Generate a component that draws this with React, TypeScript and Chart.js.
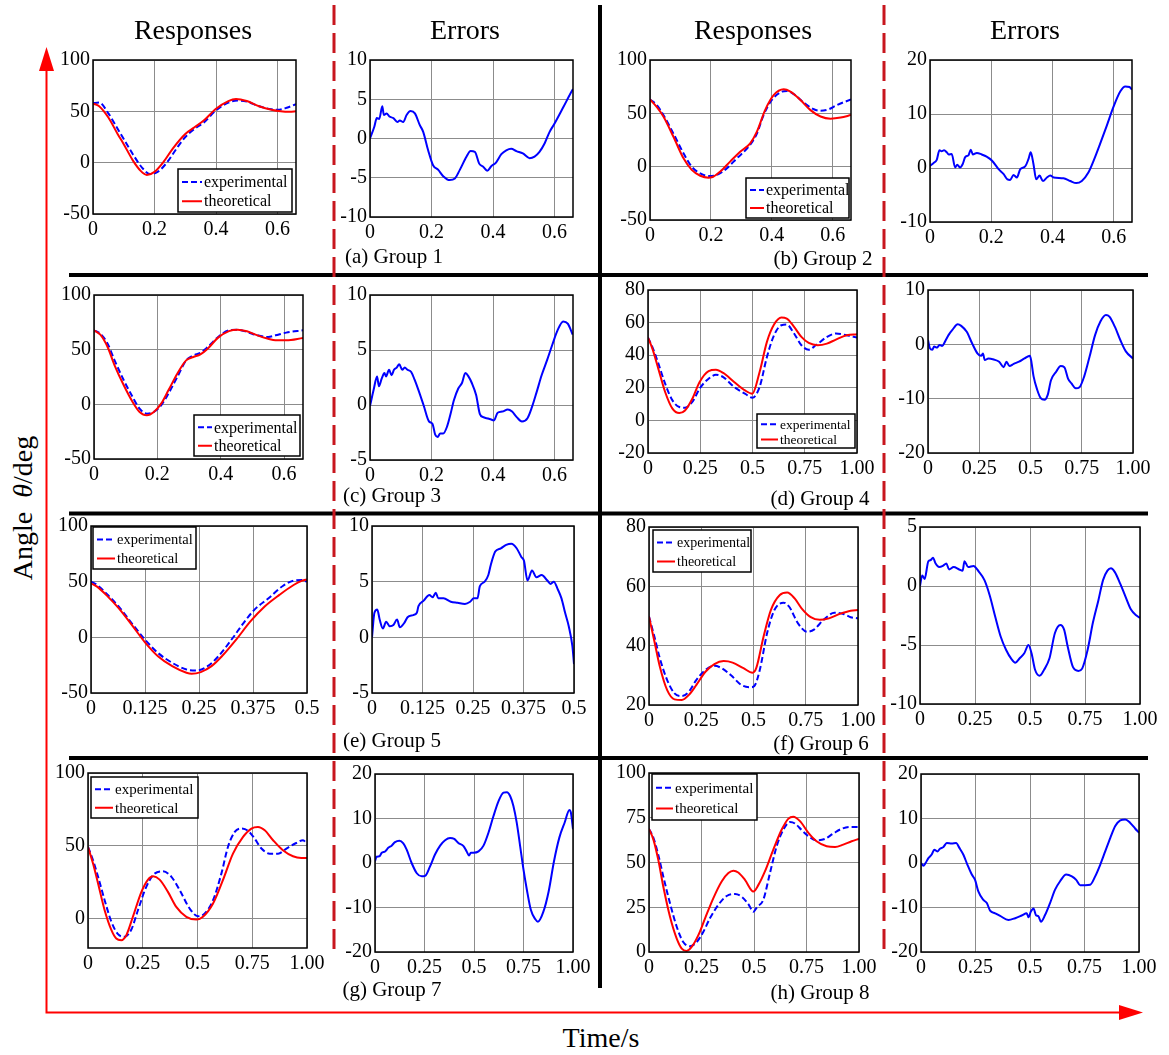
import React, { useEffect, useRef } from "react";
import { Chart, registerables } from "chart.js";

Chart.register(...registerables);

const FONT = '"Liberation Serif", "Times New Roman", Times, serif';

// ---------------- tick values / labels ----------------
const xTicks066 = [0, 0.2, 0.4, 0.6];
const xLabels066 = ["0", "0.2", "0.4", "0.6"];
const xTicks1 = [0, 0.25, 0.5, 0.75, 1];
const xLabels1 = ["0", "0.25", "0.5", "0.75", "1.00"];
const xTicks05 = [0, 0.125, 0.25, 0.375, 0.5];
const xLabels05 = ["0", "0.125", "0.25", "0.375", "0.5"];

const yTicksResp = [-50, 0, 50, 100];
const yTicksErr10 = [-10, -5, 0, 5, 10];
const yTicksErr20b = [-10, 0, 10, 20];
const yTicksErr5 = [-5, 0, 5, 10];
const yTicksD = [-20, 0, 20, 40, 60, 80];
const yTicksDErr = [-20, -10, 0, 10];
const yTicksF = [20, 40, 60, 80];
const yTicksFErr = [-10, -5, 0, 5];
const yTicksG = [0, 50, 100];
const yTicksErr20 = [-20, -10, 0, 10, 20];
const yTicksH = [0, 25, 50, 75, 100];

// ---------------- (a) Group 1 ----------------
const timeA_exp = [0, 0.02, 0.05, 0.08, 0.1, 0.13, 0.16, 0.185, 0.21, 0.24, 0.27, 0.3, 0.33, 0.36, 0.4, 0.44, 0.47, 0.5, 0.54, 0.58, 0.6, 0.63, 0.66];
const expA = [58, 58.5, 48, 33, 23, 8, -5, -11, -9, 0, 13, 25, 33, 39, 51, 58.5, 60.5, 59.5, 55, 52, 51.5, 53.5, 57];
const timeA_theo = [0, 0.02, 0.05, 0.08, 0.1, 0.13, 0.155, 0.175, 0.2, 0.23, 0.26, 0.3, 0.33, 0.36, 0.4, 0.44, 0.465, 0.5, 0.54, 0.58, 0.61, 0.64, 0.66];
const theoA = [57.5, 55, 44, 28, 18, 2, -8, -12, -9, 1, 14, 28, 34.5, 41, 52.5, 60, 62, 60, 55, 51.5, 50, 49.5, 50];
const timeA_err = [0, 0.014, 0.022, 0.03, 0.04, 0.045, 0.054, 0.063, 0.076, 0.089, 0.097, 0.108, 0.119, 0.132, 0.146, 0.162, 0.173, 0.189, 0.205, 0.222, 0.238, 0.259, 0.276, 0.292, 0.314, 0.327, 0.341, 0.355, 0.368, 0.381, 0.395, 0.409, 0.427, 0.443, 0.459, 0.476, 0.497, 0.519, 0.535, 0.551, 0.568, 0.584, 0.6, 0.63, 0.65, 0.66];
const errA = [0, 1.5, 2.6, 2.5, 4.1, 3.0, 3.2, 2.8, 2.6, 2.1, 2.3, 2.1, 3.0, 3.5, 3.2, 1.7, 0.85, -1.5, -3.4, -4.0, -4.8, -5.3, -5.1, -4.0, -2.3, -1.6, -1.7, -3.2, -3.6, -4.1, -3.5, -3.1, -2.0, -1.5, -1.3, -1.6, -1.9, -2.5, -2.3, -1.7, -0.6, 0.85, 1.9, 4.1, 5.6, 6.3];

// ---------------- (b) Group 2 ----------------
const timeB_exp = [0, 0.022, 0.044, 0.077, 0.11, 0.137, 0.165, 0.192, 0.219, 0.252, 0.285, 0.324, 0.351, 0.373, 0.4, 0.433, 0.45, 0.472, 0.505, 0.538, 0.56, 0.587, 0.614, 0.66];
const expB = [63, 57.8, 48.4, 31, 12.5, 0, -6.3, -8.8, -7.8, -1.6, 7.8, 18.8, 31, 48.4, 62.5, 70.3, 71, 68, 60, 53.8, 52.5, 53.8, 57.8, 63];
const timeB_theo = [0, 0.022, 0.044, 0.077, 0.11, 0.137, 0.165, 0.192, 0.203, 0.23, 0.263, 0.296, 0.329, 0.351, 0.378, 0.406, 0.439, 0.461, 0.494, 0.527, 0.56, 0.593, 0.626, 0.66];
const theoB = [63, 56, 47, 28, 7.8, -3, -8.5, -10.3, -10, -4.7, 4.7, 14, 21.9, 32.8, 53, 67, 72.5, 70.3, 62.5, 53, 47, 45, 46, 48.4];
const timeB_err = [0, 0.011, 0.022, 0.031, 0.038, 0.046, 0.055, 0.061, 0.071, 0.082, 0.089, 0.098, 0.107, 0.115, 0.126, 0.133, 0.14, 0.153, 0.169, 0.185, 0.202, 0.224, 0.24, 0.253, 0.262, 0.273, 0.284, 0.295, 0.311, 0.322, 0.329, 0.338, 0.347, 0.358, 0.369, 0.382, 0.393, 0.404, 0.436, 0.458, 0.478, 0.496, 0.518, 0.535, 0.556, 0.578, 0.6, 0.622, 0.638, 0.652, 0.66];
const errB = [0.4, 0.9, 1.5, 3.3, 3.1, 3.3, 2.9, 2.5, 2.6, 0.1, 0.6, 0.1, 0.75, 2.0, 2.4, 3.4, 2.5, 2.8, 2.5, 2.1, 1.4, -0.2, -1.1, -2.1, -2.2, -1.3, -1.75, -0.2, 0.3, 1.7, 2.9, 0.75, -2.1, -1.4, -2.4, -1.75, -1.4, -1.75, -1.9, -2.4, -2.8, -2.4, -0.8, 1.4, 4.5, 7.9, 11.4, 14.2, 15.1, 15.0, 14.5];

// ---------------- (c) Group 3 ----------------
const timeC = [0, 0.02, 0.043, 0.065, 0.094, 0.122, 0.144, 0.167, 0.189, 0.212, 0.235, 0.263, 0.291, 0.314, 0.336, 0.359, 0.392, 0.426, 0.454, 0.483, 0.516, 0.55, 0.573, 0.607, 0.66];
const expC = [67.7, 64.6, 55.5, 40.2, 22, 6.7, -4, -8.5, -7, -0.9, 9.8, 25, 40.2, 44.8, 47, 52.4, 61.6, 67.7, 68.3, 66.2, 63.1, 61.6, 63.1, 65.6, 67.7];
const theoC = [67.7, 63.7, 52.4, 35.7, 17.4, 2.1, -7, -10, -7, 0.6, 12.8, 28, 40.2, 43.3, 45.7, 50.9, 61, 67, 68.3, 66.8, 63.1, 60, 58.5, 58.5, 60.7];
const timeC_err = [0, 0.012, 0.023, 0.029, 0.038, 0.047, 0.052, 0.062, 0.07, 0.078, 0.087, 0.095, 0.105, 0.113, 0.122, 0.134, 0.145, 0.157, 0.174, 0.192, 0.203, 0.212, 0.22, 0.228, 0.238, 0.25, 0.262, 0.273, 0.287, 0.299, 0.31, 0.32, 0.331, 0.345, 0.357, 0.368, 0.38, 0.392, 0.403, 0.415, 0.43, 0.448, 0.462, 0.477, 0.494, 0.512, 0.527, 0.541, 0.558, 0.576, 0.593, 0.61, 0.628, 0.643, 0.659];
const errC = [-0.1, 1.4, 2.6, 1.7, 2.4, 2.9, 2.6, 3.2, 2.7, 3.2, 3.4, 3.7, 3.2, 3.4, 3.2, 3.0, 2.3, 1.4, 0, -1.5, -1.7, -2.7, -2.9, -2.6, -2.6, -2.0, -0.8, 0.45, 1.5, 2.0, 2.9, 2.6, 2.0, 0.9, -0.8, -1.1, -1.2, -1.3, -1.4, -0.7, -0.6, -0.4, -0.6, -1.1, -1.5, -1.2, -0.15, 1.1, 2.7, 4.1, 5.5, 6.8, 7.6, 7.4, 6.4];

// ---------------- (d) Group 4 ----------------
const timeD_exp = [0, 0.021, 0.047, 0.082, 0.117, 0.15, 0.177, 0.212, 0.247, 0.29, 0.325, 0.36, 0.412, 0.464, 0.499, 0.534, 0.569, 0.603, 0.638, 0.664, 0.699, 0.734, 0.769, 0.803, 0.856, 0.899, 0.951, 1.0];
const expD = [50.8, 45, 35.9, 22.5, 12.3, 8.2, 7.8, 11.3, 19.5, 25.6, 28, 26.6, 20.5, 16.4, 13.9, 20.5, 38.9, 52.2, 58.4, 58.8, 53.3, 46.1, 43.4, 46.1, 51.2, 53.3, 52.2, 50.8];
const timeD_theo = [0, 0.021, 0.047, 0.082, 0.117, 0.15, 0.177, 0.212, 0.247, 0.29, 0.325, 0.36, 0.412, 0.464, 0.499, 0.534, 0.569, 0.603, 0.638, 0.664, 0.699, 0.734, 0.769, 0.812, 0.856, 0.899, 0.951, 1.0];
const theoD = [50.8, 44, 32.8, 17.4, 7.2, 4.5, 6.1, 13.3, 23.6, 30.3, 31.1, 29.1, 23.6, 18.4, 16.4, 29.7, 48.2, 58.8, 63.1, 62.5, 57.4, 51.2, 47.5, 46.1, 47.1, 49.6, 52.2, 52.9];
const timeD_err = [0, 0.009, 0.021, 0.03, 0.044, 0.056, 0.069, 0.083, 0.1, 0.118, 0.145, 0.162, 0.189, 0.215, 0.242, 0.259, 0.268, 0.277, 0.295, 0.321, 0.347, 0.369, 0.383, 0.397, 0.418, 0.444, 0.471, 0.497, 0.503, 0.515, 0.533, 0.55, 0.568, 0.584, 0.6, 0.626, 0.647, 0.665, 0.683, 0.7, 0.721, 0.739, 0.762, 0.788, 0.815, 0.841, 0.868, 0.885, 0.912, 0.938, 0.965, 1.0];
const errD = [0.8, -0.7, -1.0, -0.4, -0.6, -0.1, -0.3, 0.5, 1.7, 2.6, 3.7, 3.4, 2.3, 0.2, -1.7, -2.1, -1.7, -2.9, -2.6, -2.8, -3.2, -4.2, -3.2, -4.0, -3.6, -3.2, -2.6, -2.1, -2.9, -5.9, -8.4, -9.9, -10.2, -9.3, -6.6, -5.0, -4.0, -4.2, -6.3, -7.2, -8.1, -7.9, -5.9, -2.3, 1.7, 4.2, 5.4, 5.1, 3.2, 0.8, -1.3, -2.6];

// ---------------- (e) Group 5 ----------------
const timeE_exp = [0, 0.014, 0.039, 0.064, 0.097, 0.125, 0.155, 0.188, 0.221, 0.245, 0.27, 0.295, 0.328, 0.353, 0.378, 0.411, 0.444, 0.469, 0.489, 0.5];
const expE = [50, 47, 38, 27.7, 11.3, -2, -14, -22.9, -28.9, -29.8, -25.9, -17, -0.6, 12.8, 24.7, 35.1, 46.1, 50.9, 51.5, 50];
const timeE_theo = [0, 0.014, 0.039, 0.064, 0.097, 0.125, 0.155, 0.188, 0.221, 0.233, 0.254, 0.279, 0.303, 0.336, 0.369, 0.402, 0.436, 0.469, 0.489, 0.5];
const theoE = [48.5, 45.5, 36.6, 26.2, 9.8, -4.5, -17, -25.9, -31.8, -32.7, -31.2, -25.9, -17, -2.1, 14.3, 27.7, 38.1, 47, 50.9, 52];
const timeE_err = [0, 0.006, 0.013, 0.019, 0.027, 0.035, 0.044, 0.053, 0.062, 0.069, 0.08, 0.088, 0.102, 0.111, 0.115, 0.128, 0.142, 0.15, 0.158, 0.164, 0.177, 0.195, 0.212, 0.23, 0.243, 0.252, 0.261, 0.267, 0.279, 0.288, 0.294, 0.305, 0.319, 0.332, 0.345, 0.358, 0.37, 0.376, 0.385, 0.396, 0.407, 0.42, 0.434, 0.442, 0.45, 0.46, 0.469, 0.478, 0.487, 0.496, 0.5];
const errE = [0, 2.2, 2.5, 1.6, 0.8, 1.4, 1.0, 1.1, 1.6, 0.9, 1.3, 1.8, 2.0, 2.2, 2.8, 3.3, 3.8, 3.6, 4.0, 3.5, 3.5, 3.2, 3.1, 3.0, 3.2, 3.5, 3.5, 4.6, 5.0, 5.6, 6.5, 7.7, 8.0, 8.3, 8.4, 8.0, 7.2, 6.9, 5.1, 6.0, 5.4, 5.6, 5.1, 4.8, 5.0, 4.3, 3.5, 2.2, 1.0, -0.8, -2.4];

// ---------------- (f) Group 6 ----------------
const timeF_exp = [0, 0.026, 0.052, 0.087, 0.122, 0.157, 0.191, 0.226, 0.27, 0.313, 0.348, 0.391, 0.443, 0.487, 0.504, 0.53, 0.565, 0.6, 0.643, 0.67, 0.713, 0.757, 0.791, 0.835, 0.887, 0.93, 0.965, 1.0];
const expF = [49.8, 43, 35.7, 28.4, 23.9, 23, 24.5, 28.4, 31.8, 33.2, 32.4, 30.1, 26.7, 26, 26.4, 31.8, 44.2, 52, 54.5, 53.2, 47.5, 44.7, 45.5, 48.7, 51.1, 50.7, 49.6, 49.2];
const timeF_theo = [0, 0.026, 0.052, 0.087, 0.122, 0.157, 0.191, 0.226, 0.27, 0.313, 0.357, 0.4, 0.452, 0.496, 0.513, 0.548, 0.583, 0.626, 0.661, 0.696, 0.73, 0.774, 0.817, 0.861, 0.913, 0.965, 1.0];
const theoF = [49.8, 41.4, 32.9, 25, 21.9, 21.7, 23.4, 26.7, 31.2, 33.8, 34.8, 34.3, 32.4, 30.9, 32.4, 43, 52, 57.1, 57.9, 56, 52.6, 49.6, 48.7, 49.2, 50.7, 51.8, 52];
const timeF_err = [0, 0.01, 0.021, 0.038, 0.049, 0.059, 0.071, 0.087, 0.104, 0.12, 0.132, 0.153, 0.178, 0.194, 0.202, 0.219, 0.243, 0.268, 0.293, 0.317, 0.342, 0.367, 0.391, 0.416, 0.433, 0.454, 0.474, 0.493, 0.507, 0.523, 0.544, 0.564, 0.589, 0.613, 0.638, 0.655, 0.671, 0.696, 0.72, 0.737, 0.762, 0.786, 0.811, 0.832, 0.852, 0.868, 0.885, 0.91, 0.934, 0.959, 0.984, 1.0];
const errF = [0, 0.9, 0.6, 2.1, 2.2, 2.4, 1.9, 1.6, 1.7, 1.9, 1.4, 1.6, 1.4, 1.3, 2.1, 1.6, 1.7, 1.2, 0.5, -0.8, -2.6, -4.3, -5.4, -6.2, -6.5, -6.1, -5.7, -5.0, -5.7, -7.1, -7.6, -7.1, -6.1, -4.0, -3.3, -3.7, -5.1, -6.9, -7.2, -7.0, -5.4, -3.1, -1.2, 0.5, 1.3, 1.5, 1.2, 0.2, -0.9, -2.0, -2.5, -2.7];

// ---------------- (g) Group 7 ----------------
const timeG_exp = [0, 0.023, 0.046, 0.076, 0.107, 0.137, 0.167, 0.198, 0.228, 0.266, 0.304, 0.342, 0.381, 0.419, 0.464, 0.502, 0.533, 0.571, 0.609, 0.639, 0.67, 0.7, 0.731, 0.761, 0.792, 0.83, 0.868, 0.906, 0.951, 0.982, 1.0];
const expG = [49.3, 40.2, 28.8, 12.8, -2.1, -10.5, -12.3, -7.3, 5.9, 21.9, 31, 32.6, 28.8, 19.6, 7.1, 1.8, 3.7, 12.8, 31, 49.3, 59.6, 61.9, 60.3, 55, 48.2, 44.7, 44.7, 48.2, 52, 53.9, 51.1];
const timeG_theo = [0, 0.023, 0.046, 0.076, 0.107, 0.129, 0.152, 0.175, 0.205, 0.244, 0.274, 0.297, 0.327, 0.365, 0.403, 0.449, 0.495, 0.525, 0.571, 0.616, 0.662, 0.708, 0.746, 0.776, 0.807, 0.845, 0.89, 0.936, 0.974, 1.0];
const theoG = [49.3, 37.9, 24.2, 5.9, -7.8, -13.5, -14.6, -11.2, 1.4, 18.5, 26.9, 29.2, 26.9, 18.5, 8.2, 1.4, -0.5, 1.4, 10.5, 26.5, 44.7, 56.2, 61.9, 63, 60.7, 53.9, 47, 42.9, 41.8, 41.8];
const timeG_err = [0, 0.008, 0.022, 0.034, 0.051, 0.067, 0.084, 0.101, 0.123, 0.143, 0.16, 0.185, 0.211, 0.236, 0.253, 0.278, 0.303, 0.329, 0.354, 0.379, 0.4, 0.421, 0.447, 0.463, 0.475, 0.484, 0.497, 0.523, 0.548, 0.573, 0.598, 0.624, 0.649, 0.666, 0.683, 0.699, 0.716, 0.733, 0.75, 0.767, 0.787, 0.809, 0.823, 0.85, 0.877, 0.904, 0.931, 0.958, 0.982, 0.989, 1.0];
const errG = [0.4, 1.4, 1.5, 2.3, 2.6, 3.4, 3.9, 4.7, 5.0, 4.4, 3.0, 0, -2.3, -3.0, -2.9, -0.75, 1.9, 3.9, 5.1, 5.6, 5.4, 4.5, 3.8, 2.6, 1.7, 2.3, 2.3, 2.6, 3.9, 6.8, 10.5, 13.9, 15.8, 15.9, 15.0, 12.8, 9.0, 3.8, -1.5, -6.0, -10.5, -12.6, -13.2, -11, -6.4, 0.4, 5.7, 9.1, 11.9, 11.4, 7.6];

// ---------------- (h) Group 8 ----------------
const timeH_exp = [0, 0.021, 0.044, 0.068, 0.1, 0.132, 0.163, 0.195, 0.227, 0.259, 0.29, 0.33, 0.37, 0.41, 0.441, 0.473, 0.497, 0.516, 0.544, 0.576, 0.608, 0.64, 0.671, 0.695, 0.727, 0.759, 0.798, 0.838, 0.878, 0.917, 0.957, 1.0];
const expH = [68.8, 63.8, 54.4, 42.2, 27.2, 14.1, 5.6, 3.2, 5.6, 11.3, 18.8, 26.3, 31.3, 32.4, 30.9, 26.8, 22.5, 25.3, 29.1, 44.1, 59.1, 68.4, 72.6, 71.8, 68.1, 64.7, 62.4, 63.2, 66.2, 68.8, 69.9, 69.9];
const timeH_theo = [0, 0.021, 0.044, 0.068, 0.1, 0.132, 0.156, 0.179, 0.203, 0.235, 0.267, 0.306, 0.346, 0.378, 0.402, 0.425, 0.457, 0.497, 0.521, 0.552, 0.592, 0.632, 0.663, 0.687, 0.719, 0.759, 0.798, 0.846, 0.886, 0.925, 0.965, 1.0];
const theoH = [68.8, 62.8, 51.6, 36.6, 19.7, 7.5, 1.9, 0.6, 2.8, 9.4, 18.8, 30, 39.4, 44.1, 45.4, 44.4, 40.3, 33.8, 37.5, 45, 57.2, 68.4, 74.4, 75.6, 73.1, 66.6, 61.9, 59.1, 58.7, 60, 61.9, 63.2];
const timeH_err = [0, 0.011, 0.021, 0.034, 0.049, 0.061, 0.075, 0.087, 0.103, 0.118, 0.141, 0.161, 0.176, 0.194, 0.213, 0.233, 0.248, 0.263, 0.286, 0.302, 0.317, 0.34, 0.363, 0.401, 0.432, 0.462, 0.485, 0.493, 0.504, 0.516, 0.527, 0.539, 0.55, 0.569, 0.592, 0.615, 0.638, 0.666, 0.692, 0.712, 0.73, 0.753, 0.776, 0.799, 0.822, 0.845, 0.868, 0.891, 0.914, 0.937, 0.96, 0.983, 1.0];
const errH = [0, -0.6, 0, 1.1, 1.9, 3.0, 2.6, 3.2, 3.6, 4.5, 4.4, 4.5, 3.4, 1.9, -0.4, -2.6, -3.8, -6.4, -8.3, -9.0, -10.7, -11.3, -11.9, -12.8, -12.4, -11.8, -11.3, -12.2, -10.9, -10.2, -11.7, -12.0, -13.2, -11.7, -9.0, -6.0, -4.1, -2.6, -3.0, -3.8, -5.0, -5.0, -4.9, -3.0, -0.4, 2.6, 5.6, 8.3, 9.6, 9.8, 9.0, 7.7, 6.8];

// ---------------- layout / styles ----------------
type Series = { t: number[]; v: number[]; kind: "exp" | "theo" | "err" };
type Legend = { x: number; y: number; w: number; h: number; font: number; sample: number };
type Spec = {
  rect: [number, number, number, number];
  xMax: number; xTicks: number[]; xLabels: string[];
  yMin: number; yMax: number; yTicks: number[];
  series: Series[]; legend?: Legend;
};

const resp = (te: number[], ve: number[], tt: number[], vt: number[]): Series[] => [
  { t: tt, v: vt, kind: "theo" },
  { t: te, v: ve, kind: "exp" },
];
const err = (t: number[], v: number[]): Series[] => [{ t, v, kind: "err" }];

const PANELS: Spec[] = [
  { rect: [93, 60, 296, 214], xMax: 0.66, xTicks: xTicks066, xLabels: xLabels066, yMin: -50, yMax: 100, yTicks: yTicksResp,
    series: resp(timeA_exp, expA, timeA_theo, theoA), legend: { x: 178, y: 169, w: 114, h: 43, font: 16, sample: 20 } },
  { rect: [370, 60, 573, 217], xMax: 0.66, xTicks: xTicks066, xLabels: xLabels066, yMin: -10, yMax: 10, yTicks: yTicksErr10,
    series: err(timeA_err, errA) },
  { rect: [650, 60, 851, 220], xMax: 0.66, xTicks: xTicks066, xLabels: xLabels066, yMin: -50, yMax: 100, yTicks: yTicksResp,
    series: resp(timeB_exp, expB, timeB_theo, theoB), legend: { x: 746, y: 178, w: 103, h: 40, font: 16, sample: 14 } },
  { rect: [930, 60, 1132, 222], xMax: 0.66, xTicks: xTicks066, xLabels: xLabels066, yMin: -10, yMax: 20, yTicks: yTicksErr20b,
    series: err(timeB_err, errB) },
  { rect: [94, 295, 303, 459], xMax: 0.66, xTicks: xTicks066, xLabels: xLabels066, yMin: -50, yMax: 100, yTicks: yTicksResp,
    series: resp(timeC, expC, timeC, theoC), legend: { x: 194, y: 415, w: 106, h: 41, font: 16, sample: 14 } },
  { rect: [370, 295, 573, 460], xMax: 0.66, xTicks: xTicks066, xLabels: xLabels066, yMin: -5, yMax: 10, yTicks: yTicksErr5,
    series: err(timeC_err, errC) },
  { rect: [648, 290, 857, 453], xMax: 1, xTicks: xTicks1, xLabels: xLabels1, yMin: -20, yMax: 80, yTicks: yTicksD,
    series: resp(timeD_exp, expD, timeD_theo, theoD), legend: { x: 757, y: 414, w: 98, h: 34, font: 13.5, sample: 17 } },
  { rect: [928, 290, 1133, 453], xMax: 1, xTicks: xTicks1, xLabels: xLabels1, yMin: -20, yMax: 10, yTicks: yTicksDErr,
    series: err(timeD_err, errD) },
  { rect: [91, 526, 307, 693], xMax: 0.5, xTicks: xTicks05, xLabels: xLabels05, yMin: -50, yMax: 100, yTicks: yTicksResp,
    series: resp(timeE_exp, expE, timeE_theo, theoE), legend: { x: 93, y: 527, w: 103, h: 42, font: 14.5, sample: 18 } },
  { rect: [372, 526, 574, 693], xMax: 0.5, xTicks: xTicks05, xLabels: xLabels05, yMin: -5, yMax: 10, yTicks: yTicksErr5,
    series: err(timeE_err, errE) },
  { rect: [649, 527, 858, 705], xMax: 1, xTicks: xTicks1, xLabels: xLabels1, yMin: 20, yMax: 80, yTicks: yTicksF,
    series: resp(timeF_exp, expF, timeF_theo, theoF), legend: { x: 653, y: 530, w: 98, h: 42, font: 14, sample: 18 } },
  { rect: [920, 527, 1140, 704], xMax: 1, xTicks: xTicks1, xLabels: xLabels1, yMin: -10, yMax: 5, yTicks: yTicksFErr,
    series: err(timeF_err, errF) },
  { rect: [88, 773, 307, 948], xMax: 1, xTicks: xTicks1, xLabels: xLabels1, yMin: -20, yMax: 100, yTicks: yTicksG,
    series: resp(timeG_exp, expG, timeG_theo, theoG), legend: { x: 91, y: 777, w: 107, h: 41, font: 15, sample: 18 } },
  { rect: [375, 774, 573, 952], xMax: 1, xTicks: xTicks1, xLabels: xLabels1, yMin: -20, yMax: 20, yTicks: yTicksErr20,
    series: err(timeG_err, errG) },
  { rect: [649, 773, 859, 952], xMax: 1, xTicks: xTicks1, xLabels: xLabels1, yMin: 0, yMax: 100, yTicks: yTicksH,
    series: resp(timeH_exp, expH, timeH_theo, theoH), legend: { x: 652, y: 774, w: 105, h: 46, font: 15, sample: 17 } },
  { rect: [921, 774, 1139, 952], xMax: 1, xTicks: xTicks1, xLabels: xLabels1, yMin: -20, yMax: 20, yTicks: yTicksErr20,
    series: err(timeH_err, errH) },
];

const YW = 46, PT = 16, PR = 26, XH = 30;
const BLUE = "#0000ff", RED = "#ff0000", GRID = "#8c8c8c";

const frameBox = {
  id: "frameBox",
  afterDatasetsDraw(chart: any, _args: any, opts: any) {
    const { ctx, chartArea: a } = chart;
    ctx.save();
    ctx.strokeStyle = "#000";
    ctx.lineWidth = 1.5;
    ctx.strokeRect(a.left, a.top, a.right - a.left, a.bottom - a.top);
    const lg = opts && opts.box;
    if (lg) {
      const x = a.left + lg.dx, y = a.top + lg.dy;
      ctx.fillStyle = "#fff";
      ctx.fillRect(x, y, lg.w, lg.h);
      ctx.strokeStyle = "#000";
      ctx.lineWidth = 1.5;
      ctx.strokeRect(x, y, lg.w, lg.h);
      const rows = [
        { label: "experimental", color: BLUE, dash: [6, 3], yy: y + lg.h * 0.3 },
        { label: "theoretical", color: RED, dash: [] as number[], yy: y + lg.h * 0.75 },
      ];
      ctx.font = `${lg.font}px ${FONT}`;
      ctx.textBaseline = "middle";
      ctx.textAlign = "left";
      rows.forEach((r) => {
        ctx.beginPath();
        ctx.setLineDash(r.dash);
        ctx.strokeStyle = r.color;
        ctx.lineWidth = 2;
        ctx.moveTo(x + 4, r.yy);
        ctx.lineTo(x + 4 + lg.sample, r.yy);
        ctx.stroke();
        ctx.setLineDash([]);
        ctx.fillStyle = "#000";
        ctx.fillText(r.label, x + 6 + lg.sample, r.yy + 1);
      });
    }
    ctx.restore();
  },
};

function PanelChart({ p }: { p: Spec }) {
  const ref = useRef<HTMLCanvasElement>(null);
  const [l, t, r, b] = p.rect;
  const W = r - l + YW + PR;
  const H = b - t + PT + XH;
  useEffect(() => {
    const canvas = ref.current!;
    const tickFont = { family: FONT, size: 20 };
    const datasets = p.series.map((s) => ({
      data: s.t.map((x, i) => ({ x, y: s.v[i] })),
      borderColor: s.kind === "theo" ? RED : BLUE,
      borderWidth: 2,
      borderDash: s.kind === "exp" ? [6, 3] : [],
      pointRadius: 0,
      fill: false,
      cubicInterpolationMode: "monotone",
      borderJoinStyle: "round",
    }));
    const chart = new Chart(canvas, {
      type: "line",
      data: { datasets } as any,
      plugins: [frameBox as any],
      options: {
        animation: false,
        responsive: false,
        maintainAspectRatio: false,
        events: [],
        layout: { padding: { left: 0, top: PT, right: PR, bottom: 0 } },
        plugins: {
          legend: { display: false },
          tooltip: { enabled: false },
          frameBox: p.legend
            ? { box: { dx: p.legend.x - l, dy: p.legend.y - t, w: p.legend.w, h: p.legend.h, font: p.legend.font, sample: p.legend.sample } }
            : {},
        } as any,
        scales: {
          x: {
            type: "linear",
            min: 0,
            max: p.xMax,
            afterBuildTicks: (s: any) => { s.ticks = p.xTicks.map((value) => ({ value })); },
            afterFit: (s: any) => { s.height = XH; },
            ticks: { autoSkip: false, maxRotation: 0, padding: 4, color: "#000", font: tickFont,
              callback: (_v: any, i: number) => p.xLabels[i] },
            grid: { color: GRID, lineWidth: 1, drawTicks: false },
            border: { display: false },
          },
          y: {
            type: "linear",
            min: p.yMin,
            max: p.yMax,
            afterBuildTicks: (s: any) => { s.ticks = p.yTicks.map((value) => ({ value })); },
            afterFit: (s: any) => { s.width = YW; },
            ticks: { autoSkip: false, padding: 3, color: "#000", font: tickFont,
              callback: (v: any) => String(v) },
            grid: { color: GRID, lineWidth: 1, drawTicks: false },
            border: { display: false },
          },
        } as any,
      },
    });
    const ca = chart.chartArea;
    if (ca) {
      canvas.style.left = `${l - ca.left}px`;
      canvas.style.top = `${t - ca.top}px`;
    }
    return () => chart.destroy();
  }, []);
  return (
    <canvas
      ref={ref}
      width={W}
      height={H}
      style={{ position: "absolute", left: l - YW, top: t - PT, width: W, height: H }}
    />
  );
}

function Txt({ x, y, size, children, rotate }: { x: number; y: number; size: number; children: any; rotate?: boolean }) {
  return (
    <div
      style={{
        position: "absolute",
        left: x,
        top: y,
        transform: `translate(-50%, -50%)${rotate ? " rotate(-90deg)" : ""}`,
        fontFamily: FONT,
        fontSize: size,
        lineHeight: 1,
        whiteSpace: "nowrap",
        color: "#000",
      }}
    >
      {children}
    </div>
  );
}

const HEADERS = [
  { x: 193, y: 30, s: "Responses" },
  { x: 465, y: 30, s: "Errors" },
  { x: 753, y: 30, s: "Responses" },
  { x: 1025, y: 30, s: "Errors" },
];
const GROUPS = [
  { x: 394, y: 256, s: "(a) Group 1" },
  { x: 823, y: 258, s: "(b) Group 2" },
  { x: 392, y: 495, s: "(c) Group 3" },
  { x: 820, y: 498, s: "(d) Group 4" },
  { x: 392, y: 740, s: "(e) Group 5" },
  { x: 821, y: 743, s: "(f) Group 6" },
  { x: 392, y: 989, s: "(g) Group 7" },
  { x: 820, y: 992, s: "(h) Group 8" },
];

export default function App() {
  return (
    <div style={{ position: "absolute", left: 0, top: 0, width: 1169, height: 1055, background: "#fff", overflow: "hidden" }}>
      <svg width={1169} height={1055} style={{ position: "absolute", left: 0, top: 0 }}>
        <line x1={600} y1={5} x2={600} y2={988} stroke="#000" strokeWidth={4} />
        {[275, 513.5, 758].map((y) => (
          <line key={y} x1={69} y1={y} x2={1148} y2={y} stroke="#000" strokeWidth={4} />
        ))}
        <line x1={334} y1={5} x2={334} y2={951} stroke="#c8161e" strokeWidth={3} strokeDasharray="20 8" />
        <line x1={884} y1={5} x2={884} y2={957} stroke="#c8161e" strokeWidth={3} strokeDasharray="20 8" />
        <polyline points="46.5,68 46.5,1012.5 1122,1012.5" fill="none" stroke="#ff0000" strokeWidth={2} />
        <polygon points="46.5,47 39,71 54,71" fill="#ff0000" />
        <polygon points="1143,1012.5 1119,1005 1119,1020" fill="#ff0000" />
      </svg>
      {PANELS.map((p, i) => (
        <PanelChart key={i} p={p} />
      ))}
      {HEADERS.map((h, i) => (
        <Txt key={"h" + i} x={h.x} y={h.y} size={28}>{h.s}</Txt>
      ))}
      {GROUPS.map((g, i) => (
        <Txt key={"g" + i} x={g.x} y={g.y} size={21}>{g.s}</Txt>
      ))}
      <Txt x={23} y={508} size={28} rotate>
        {"Angle\u00a0\u00a0"}<i>θ</i>{"/deg"}
      </Txt>
      <Txt x={601} y={1038} size={28}>Time/s</Txt>
    </div>
  );
}
